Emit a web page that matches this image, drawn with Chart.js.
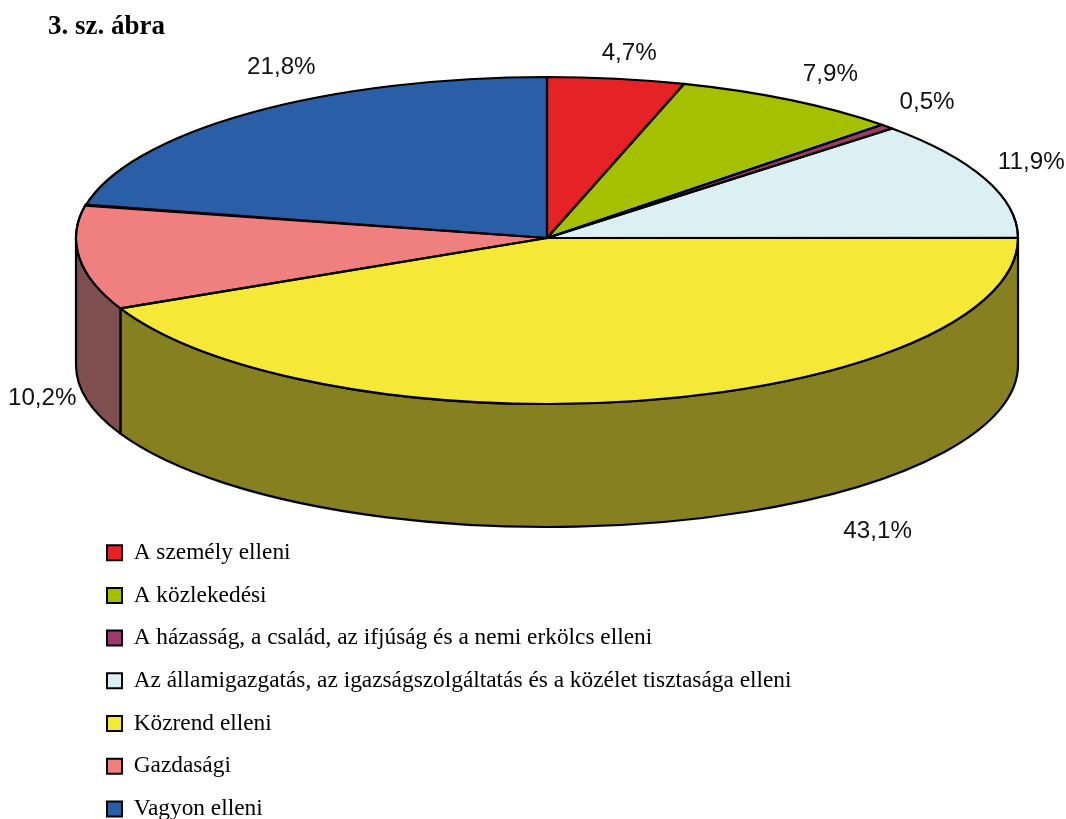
<!DOCTYPE html>
<html lang="hu">
<head>
<meta charset="utf-8">
<title>3. sz. ábra</title>
<style>
html,body{margin:0;padding:0;background:#fff;}
#wrap{position:relative;width:1066px;height:819px;}
canvas{display:block;}
</style>
<script src="https://cdn.jsdelivr.net/npm/chart.js@4"></script>
</head>
<body>
<div id="wrap"><canvas id="c" width="1066" height="819"></canvas></div>
<script>
const chartTitle = '3. sz. ábra';
const categories = [
  'A személy elleni',
  'A közlekedési',
  'A házasság, a család, az ifjúság és a nemi erkölcs elleni',
  'Az államigazgatás, az igazságszolgáltatás és a közélet tisztasága elleni',
  'Közrend elleni',
  'Gazdasági',
  'Vagyon elleni'
];
const shares = [4.7, 7.9, 0.5, 11.9, 43.1, 10.2, 21.8];
const sliceColors = ['#e52225', '#a4c000', '#9c3a6b', '#dcf0f4', '#f5e836', '#f08080', '#2a5fa8'];
const wallColors = ['#72111a', '#526000', '#4e1d35', '#6e787a', '#878020', '#7f4f4f', '#153054'];

/* Page geometry of the tilted pie */
const view = { cx: 547, cy: 238, ryTop: 161, ryFront: 166, wallDrop: 127, wallRy: 162 };
/* Where each percentage label sits relative to its slice's rim point */
const labelShift = [[13,-25],[40,-26],[40,-24],[46,-17],[228,131],[-37,141],[32,-46]];

const tiltedPie = {
  id: 'tiltedPie',
  afterLayout(chart) {
    const lg = chart.legend;
    const pad = lg.options.labels.padding;
    lg.left = 107 - pad; lg.right = lg.left + lg.width;
    lg.top = 541 - pad;  lg.bottom = lg.top + lg.height + 10;
    lg.adjustHitBoxes && lg.adjustHitBoxes();
    const t = chart.titleBlock;
    const h = t.height;
    t.left = 48; t.right = 400; t.width = 352; t.top = 11; t.bottom = 11 + h;
  },
  beforeDatasetsDraw(chart) {
    const ctx = chart.ctx;
    const arcs = chart.getDatasetMeta(0).data;
    const { cx, cy, ryTop, ryFront, wallDrop, wallRy } = view;
    const ryOf = a => {
      const m = (a.startAngle + a.endAngle) / 2;
      return Math.sin(m) > 0 ? ryFront : ryTop;
    };
    ctx.save();
    ctx.lineJoin = 'round';
    ctx.lineWidth = 2.2;
    ctx.strokeStyle = '#000';

    // side wall of the slices facing the viewer
    arcs.forEach((a, i) => {
      const from = Math.max(a.startAngle, 0);
      const to = Math.min(a.endAngle, Math.PI);
      if (to <= from) return;
      const rx = a.outerRadius;
      ctx.beginPath();
      ctx.ellipse(cx, cy, rx, ryFront, 0, from, to);
      ctx.ellipse(cx, cy + wallDrop, rx, wallRy, 0, to, from, true);
      ctx.closePath();
      ctx.fillStyle = wallColors[i];
      ctx.fill();
      ctx.stroke();
    });

    // top face: the library's own arc elements, squashed
    arcs.forEach(a => {
      ctx.save();
      ctx.translate(cx, cy);
      ctx.scale(1, ryOf(a) / a.outerRadius);
      ctx.translate(-a.x, -a.y);
      a.draw(ctx);
      ctx.restore();
    });
    arcs.forEach(a => {
      ctx.beginPath();
      ctx.moveTo(cx, cy);
      ctx.ellipse(cx, cy, a.outerRadius, ryOf(a), 0, a.startAngle, a.endAngle);
      ctx.closePath();
      ctx.stroke();
    });

    // percentage labels
    ctx.fillStyle = '#111';
    ctx.font = '24.2px "Liberation Sans"';
    ctx.textAlign = 'center';
    ctx.textBaseline = 'middle';
    arcs.forEach((a, i) => {
      const m = (a.startAngle + a.endAngle) / 2;
      const x = cx + a.outerRadius * Math.cos(m) + labelShift[i][0];
      const y = cy + ryOf(a) * Math.sin(m) + labelShift[i][1];
      ctx.fillText(shares[i].toFixed(1).replace('.', ',') + '%', x, y);
    });
    ctx.restore();
    return false;
  }
};

new Chart(document.getElementById('c'), {
  type: 'pie',
  data: {
    labels: categories,
    datasets: [{
      data: shares,
      backgroundColor: sliceColors,
      borderColor: '#000',
      borderWidth: 2
    }]
  },
  options: {
    responsive: false,
    animation: false,
    radius: 471,
    plugins: {
      tooltip: { enabled: false },
      title: {
        display: true,
        text: chartTitle,
        align: 'start',
        color: '#000',
        padding: 0,
        font: { family: '"Liberation Serif"', size: 27, weight: 'bold' }
      },
      legend: {
        display: true,
        position: 'left',
        align: 'start',
        maxWidth: 900,
        labels: {
          color: '#000',
          boxWidth: 15,
          boxHeight: 15,
          padding: 19.35,
          font: { family: '"Liberation Serif"', size: 23.35 }
        }
      }
    }
  },
  plugins: [tiltedPie]
});
</script>
</body>
</html>
